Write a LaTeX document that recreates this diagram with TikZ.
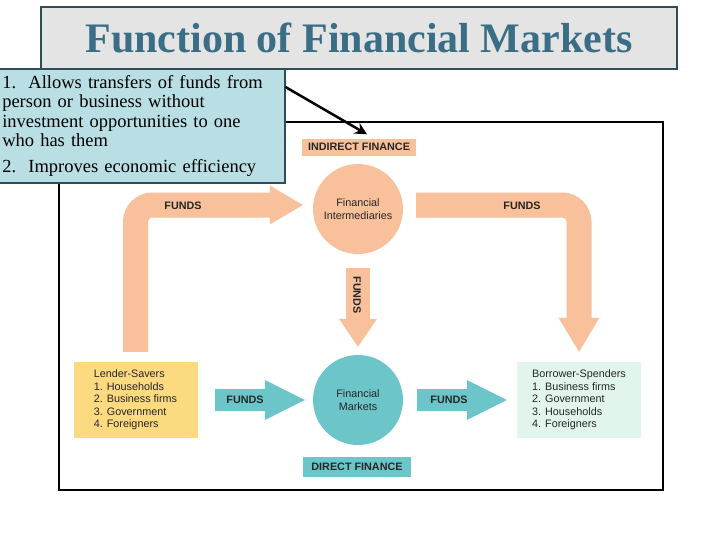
\documentclass[tikz,border=0pt]{standalone}
\usepackage{fontspec}
\setmainfont{Liberation Serif}
\setsansfont{Liberation Sans}
\usetikzlibrary{arrows.meta, positioning}

\definecolor{fundpeach}{RGB}{249,193,155}
\definecolor{fundteal}{RGB}{108,197,200}
\definecolor{lenderyellow}{RGB}{252,218,128}
\definecolor{borrowermint}{RGB}{226,245,236}
\definecolor{calloutblue}{RGB}{185,222,228}
\definecolor{titlegray}{RGB}{228,228,228}
\definecolor{titleedge}{RGB}{45,78,88}
\definecolor{titleblue}{RGB}{58,110,134}

\newcommand{\smallsans}{\sffamily\fontsize{10.8}{12.6}\selectfont}

\begin{document}
\begin{tikzpicture}[x=1pt, y=-1pt,
    circ/.style={circle, minimum size=90pt, inner sep=1pt, align=center, font=\smallsans, text=black!85},
    tag/.style={inner sep=0pt, font=\smallsans\bfseries, text=black!85},
    party/.style={minimum width=124pt, minimum height=76pt, inner sep=0pt, align=left, font=\smallsans, text=black!85},
    fundslabel/.style={font=\smallsans\bfseries, text=black!85},
    bigpeach/.style={draw=fundpeach, line width=25pt, rounded corners=17pt},
    bigteal/.style={draw=fundteal, line width=22pt, -{Triangle[length=40pt,width=40pt,line width=0pt]}},
    pointer/.style={draw=black, line width=2.5pt, -{Stealth[length=12pt,width=12pt]}}]
        \fill[white] (0,0) rectangle (728,546);
        \useasboundingbox (0,0) rectangle (728,546);

        % frame and title
        \draw[line width=1.5pt] (59,122) rectangle (663,490);
        \node[draw=titleedge, line width=2.5pt, fill=titlegray, minimum width=636pt, minimum height=62pt,
              text=titleblue, font=\fontsize{42}{42}\selectfont\bfseries] (title) at (359,38) {Function of Financial Markets};

        \node[draw=titleedge, line width=1.5pt, fill=calloutblue, anchor=north west, text width=279pt,
              inner xsep=3.5pt, minimum height=114pt, align=left, font=\fontsize{18.5}{19.5}\selectfont] (callout) at (-2,68)
              {1.\ \ Allows transfers of funds from\\person or business without\\investment opportunities to one\\who has them\\[6pt]2.\ \ Improves economic efficiency};

        % nodes
        \node[circ, fill=fundpeach] (inter) at (358,209) {Financial\\Intermediaries};
        \node[circ, fill=fundteal] (mkts) at (358,400) {Financial\\Markets};
        \node[tag, fill=fundpeach, minimum width=114pt, minimum height=17pt] (indirect) at (359,147) {INDIRECT FINANCE};
        \node[tag, fill=fundteal, minimum width=108pt, minimum height=20pt] (direct) at (357,467) {DIRECT FINANCE};
        \node[party, fill=lenderyellow] (lender) at (135.5,400)
              {Lender-Savers\\1. Households\\2. Business firms\\3. Government\\4. Foreigners};
        \node[party, fill=borrowermint] (borrower) at (579,400)
              {Borrower-Spenders\\1. Business firms\\2. Government\\3. Households\\4. Foreigners};

        % fund flows
        \draw[bigpeach, -{Triangle[length=33pt,width=39pt,line width=0pt]}] ([yshift=10pt]lender.north) |- ([xshift=-10pt,yshift=4pt]inter.west);
        \draw[bigpeach, -{Triangle[length=34pt,width=41pt,line width=0pt]}] ([xshift=13pt,yshift=4pt]inter.east) -| ([yshift=10pt]borrower.north);
        \draw[bigpeach, line width=24pt, -{Triangle[length=28pt,width=38pt,line width=0pt]}] ([yshift=-14pt]inter.south) -- ([yshift=8pt]mkts.north);
        \draw[bigteal] ([xshift=17pt]lender.east) -- ([xshift=-8pt]mkts.west);
        \draw[bigteal] ([xshift=14pt]mkts.east) -- ([xshift=-10pt]borrower.west);

        \node[fundslabel] (fundsA) at (183,206) {FUNDS};
        \node[fundslabel] (fundsB) at (522,206) {FUNDS};
        \node[fundslabel, rotate=-90] (fundsC) at (357,295) {FUNDS};
        \node[fundslabel] (fundsD) at (245,400) {FUNDS};
        \node[fundslabel] (fundsE) at (449,400) {FUNDS};

        \draw[pointer] ([yshift=-19pt]callout.north east) -- ([xshift=8pt,yshift=4pt]indirect.north);
\end{tikzpicture}
\end{document}
